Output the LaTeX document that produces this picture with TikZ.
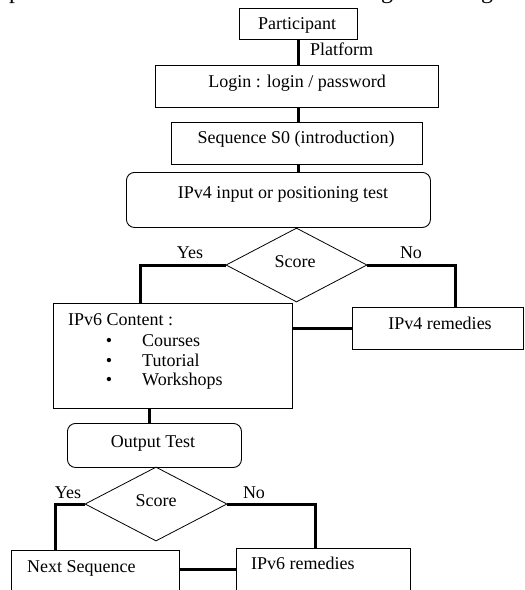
\documentclass[tikz,border=0pt]{standalone}
\usepackage{fontspec}
\setmainfont{Liberation Serif}
\usetikzlibrary{shapes.geometric,calc}
\begin{document}
\begin{tikzpicture}[x=1pt,y=-1pt,
  every node/.style={font=\fontsize{18}{21}\selectfont},
  boxn/.style={draw,line width=0.9pt,inner sep=0,anchor=north west},
  rboxn/.style={boxn,rounded corners=8pt},
  dian/.style={draw,line width=0.8pt,diamond,inner sep=0},
  conn/.style={line width=3pt},
  txt/.style={inner sep=0,anchor=base},
  ltxt/.style={inner sep=0,anchor=base west}]
\useasboundingbox (0,0) rectangle (525,590);
\clip (0,0) rectangle (525,590);
\node[inner sep=0,anchor=base west,font=\fontsize{24}{28}\selectfont] (intro) at (-3,-2) {operational scenario as shown in the diagram in Fig 1.};
% boxes
\node[boxn,minimum width=118,minimum height=31] (part) at (239,8) {};
\node[boxn,minimum width=283,minimum height=42] (login) at (155,65) {};
\node[boxn,minimum width=251,minimum height=42] (seq) at (171,122) {};
\node[rboxn,minimum width=304,minimum height=55] (test4) at (126,172) {};
\node[dian,minimum width=141,minimum height=74] (d1) at (296.5,265) {};
\node[boxn,minimum width=239,minimum height=105] (cont) at (53,303) {};
\node[boxn,minimum width=171,minimum height=42] (rem4) at (352,307) {};
\node[rboxn,minimum width=174,minimum height=44] (out) at (67,423) {};
\node[dian,minimum width=142,minimum height=74] (d2) at (156,504) {};
\node[boxn,minimum width=168,minimum height=60] (next) at (11,550) {};
\node[boxn,minimum width=174,minimum height=60] (rem6) at (236,548) {};
% texts
\node[txt] (tpart) at (297,29) {Participant};
\node[ltxt] (tplat) at (310,55) {Platform};
\node[txt] (tlogin) at (297,87) {Login : login / password};
\node[txt] (tseq) at (296,143) {Sequence S0 (introduction)};
\node[txt] (ttest4) at (283,198) {IPv4 input or positioning test};
\node[txt] (ts1) at (295,267) {Score};
\node[txt] (ty1) at (190,258) {Yes};
\node[txt] (tn1) at (411,258) {No};
\node[txt] (trem4) at (440,329) {IPv4 remedies};
\node[ltxt] (tcont) at (68,325) {IPv6 Content :};
\node[txt] (b1) at (109,346) {\textbullet};
\node[txt] (b2) at (109,366) {\textbullet};
\node[txt] (b3) at (109,385) {\textbullet};
\node[ltxt] (tc1) at (142,346) {Courses};
\node[ltxt] (tc2) at (142,366) {Tutorial};
\node[ltxt] (tc3) at (142,385) {Workshops};
\node[txt] (tout) at (153,447) {Output Test};
\node[txt] (ts2) at (156,506) {Score};
\node[txt] (ty2) at (68,498) {Yes};
\node[txt] (tn2) at (254,498) {No};
\node[ltxt] (tnext) at (27,572) {Next Sequence};
\node[ltxt] (trem6) at (251,569) {IPv6 remedies};
% connectors
\coordinate (cx) at (298,0);
\draw[conn] (part.south -| cx) -- (login.north -| cx);
\draw[conn] (login.south -| cx) -- (seq.north -| cx);
\draw[conn] (seq.south -| cx) -- (test4.north -| cx);
\draw[conn] (d1.west) -| ($(cont.north west)+(87,0)$);
\draw[conn] (d1.east) -| ($(rem4.north west)+(103,0)$);
\draw[conn] (cont.east |- rem4.west) -- (rem4.west);
\draw[conn] ($(cont.south west)+(96,0)$) -- ($(cont.south west)+(96,15)$);
\draw[conn] (d2.west) -| ($(next.north west)+(44,0)$);
\draw[conn] (d2.east) -| ($(rem6.north west)+(79,0)$);
\draw[conn] ($(next.north east)+(0,19)$) -- ($(rem6.north west)+(0,21)$);
\end{tikzpicture}
\end{document}
